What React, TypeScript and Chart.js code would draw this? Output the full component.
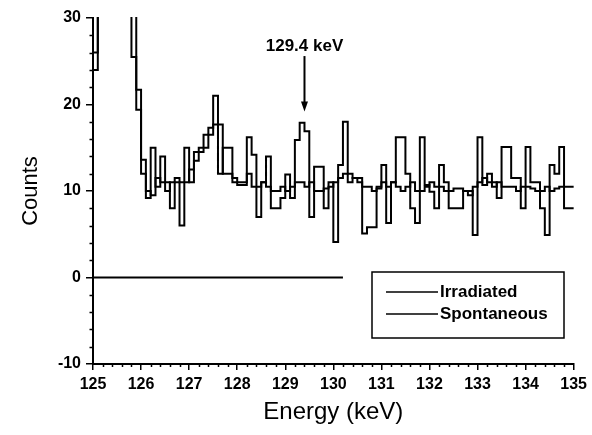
import React, { useEffect, useRef } from "react";
import { Chart, registerables } from "chart.js";

Chart.register(...registerables);

// Histogram bins: first bin starts at 124.9 keV, width 0.1 keV
const binStart = 124.9;
const binWidth = 0.1;

const irradiatedCounts = [
  18, 26, 45, 45, 45, 45, 45, 45, 45, 25.5, 21.7,
  13.6, 9.2, 15, 10.5, 14, 11, 8, 11, 6, 15,
  11, 14.5, 14.5, 16.5, 17.3, 21, 12, 15, 15, 11,
  10.7, 10.7, 16.2, 14.2, 7, 11, 14, 8, 8, 9.2,
  11.9, 9.2, 15.9, 17.9, 16.9, 7, 12.8, 12.8, 8, 11,
  4.1, 13, 18, 12, 11.5, 11.5, 5.1, 5.8, 5.8, 10.3,
  13, 6.3, 11, 16.2, 16.2, 12, 8, 6.3, 16.2, 10.7,
  9.9, 8, 13, 11, 8, 8, 8, 10, 10, 4.9,
  16.2, 10.7, 12, 11, 9.2, 15.1, 15.1, 11.5, 11.5, 8,
  15.1, 11, 11, 8, 4.9, 13, 12, 15.1, 8, 8,
];

const spontaneousCounts = [
  17, 24, 45, 45, 45, 45, 45, 45, 45, 45, 19.4,
  12, 10, 9.5, 11.5, 11, 10, 11, 11.5, 11, 11,
  12.5, 13.5, 15, 15, 16.5, 17.7, 17.7, 12, 12, 11.5,
  11, 11, 12, 10.5, 10.5, 11, 10.5, 10, 10, 10.5,
  10, 10.5, 11, 11, 10.5, 11, 10, 10, 10.3, 10.5,
  11, 11.5, 12, 11, 11.5, 11, 10.5, 10.5, 10, 10.5,
  11, 10.5, 11, 10.5, 10, 10.5, 11, 10, 10, 10.5,
  11, 10.5, 10.5, 10, 10, 10.3, 10.3, 10, 9.5, 10.5,
  11, 11.5, 11, 10.5, 11, 10.5, 10.5, 10.5, 10, 10.5,
  10.5, 10.3, 10, 10, 10.5, 10, 10.3, 10.5, 10.5, 10.5,
];

const zeroLineEnergies = [125, 130.2];
const zeroLineCounts = [0, 0];

const seriesLabels = ["Irradiated", "Spontaneous"];
const peakEnergy = 129.4;
const peakLabel = "129.4 keV";
const arrowFrom = 25.6;
const arrowTo = 19.2;
const labelAt = 26.7;

const xTitle = "Energy (keV)";
const yTitle = "Counts";

const FONT = "'Liberation Sans', Arial, Helvetica, sans-serif";

function toHistogram(values: number[]) {
  const pts = values.map((v, i) => ({
    x: Math.round((binStart + i * binWidth) * 100) / 100,
    y: v,
  }));
  pts.push({
    x: Math.round((binStart + values.length * binWidth) * 100) / 100,
    y: values[values.length - 1],
  });
  return pts;
}

const extrasPlugin = {
  id: "extras",
  afterDraw(chart: any) {
    const { ctx } = chart;
    const xs = chart.scales.x;
    const ys = chart.scales.y;
    const area = chart.chartArea;
    ctx.save();
    ctx.strokeStyle = "#000";
    ctx.fillStyle = "#000";
    // minor ticks x (every 0.2)
    ctx.lineWidth = 1.5;
    ctx.beginPath();
    for (let i = 0; i <= 50; i++) {
      if (i % 5 === 0) continue;
      const v = 125 + i * 0.2;
      const px = Math.round(xs.getPixelForValue(v)) + 0.5;
      ctx.moveTo(px, area.bottom);
      ctx.lineTo(px, area.bottom + 3);
    }
    // minor ticks y (every 2)
    for (let v = -10; v <= 30; v += 2) {
      if (v % 10 === 0) continue;
      const py = Math.round(ys.getPixelForValue(v)) + 0.5;
      ctx.moveTo(area.left, py);
      ctx.lineTo(area.left - 3.5, py);
    }
    ctx.stroke();

    // annotation arrow
    const ax = xs.getPixelForValue(peakEnergy);
    const y1 = ys.getPixelForValue(arrowFrom);
    const y2 = ys.getPixelForValue(arrowTo);
    ctx.lineWidth = 2;
    ctx.beginPath();
    ctx.moveTo(ax, y1);
    ctx.lineTo(ax, y2 - 8);
    ctx.stroke();
    ctx.beginPath();
    ctx.moveTo(ax - 3.5, y2 - 10);
    ctx.lineTo(ax + 3.5, y2 - 10);
    ctx.lineTo(ax, y2);
    ctx.closePath();
    ctx.fill();
    ctx.font = `bold 17px ${FONT}`;
    ctx.textAlign = "center";
    ctx.textBaseline = "middle";
    ctx.fillText(peakLabel, ax, ys.getPixelForValue(labelAt));

    // legend box
    const bx = 372, by = 272, bw = 192, bh = 66;
    ctx.lineWidth = 1.5;
    ctx.fillStyle = "#fff";
    ctx.fillRect(bx, by, bw, bh);
    ctx.strokeRect(bx, by, bw, bh);
    ctx.fillStyle = "#000";
    ctx.font = `bold 17px ${FONT}`;
    ctx.textAlign = "left";
    const rows = [292, 314];
    seriesLabels.forEach((lbl, i) => {
      ctx.beginPath();
      ctx.lineWidth = 1.5;
      ctx.moveTo(386, rows[i]);
      ctx.lineTo(438, rows[i]);
      ctx.stroke();
      ctx.fillText(lbl, 440, rows[i]);
    });
    ctx.restore();
  },
};

export default function App() {
  const ref = useRef<HTMLCanvasElement>(null);
  useEffect(() => {
    if (!ref.current) return;
    const chart = new Chart(ref.current, {
      type: "line",
      data: {
        datasets: [
          {
            label: seriesLabels[0],
            data: toHistogram(irradiatedCounts),
            stepped: "before",
            borderColor: "#000",
            borderWidth: 2,
            pointRadius: 0,
            fill: false,
            clip: 1,
          },
          {
            label: seriesLabels[1],
            data: toHistogram(spontaneousCounts),
            stepped: "before",
            borderColor: "#000",
            borderWidth: 2,
            pointRadius: 0,
            fill: false,
            clip: 1,
          },
          {
            label: "zero",
            data: zeroLineEnergies.map((e, i) => ({ x: e, y: zeroLineCounts[i] })),
            borderColor: "#000",
            borderWidth: 2,
            pointRadius: 0,
            fill: false,
          },
        ],
      },
      options: {
        animation: false,
        responsive: false,
        devicePixelRatio: 1,
        layout: { padding: { top: 18, right: 17, left: 0, bottom: 0 } },
        plugins: {
          legend: { display: false },
          tooltip: { enabled: false },
        },
        scales: {
          x: {
            type: "linear",
            min: 125,
            max: 135,
            afterFit: (s: any) => {
              s.height = 71;
            },
            ticks: {
              stepSize: 1,
              color: "#000",
              font: { family: FONT, size: 16, weight: "bold" },
              padding: 5,
              maxRotation: 0,
            },
            grid: {
              display: true,
              drawOnChartArea: false,
              drawTicks: true,
              tickLength: 6,
              color: "#000",
              lineWidth: 1.5,
            },
            border: { display: true, color: "#000", width: 2 },
            title: {
              display: true,
              text: xTitle,
              color: "#000",
              font: { family: FONT, size: 24 },
              padding: { bottom: 8 },
            },
          },
          y: {
            type: "linear",
            min: -10,
            max: 30,
            afterFit: (s: any) => {
              s.width = 93;
            },
            ticks: {
              stepSize: 10,
              color: "#000",
              font: { family: FONT, size: 16, weight: "bold" },
              padding: 5,
            },
            grid: {
              display: true,
              drawOnChartArea: false,
              drawTicks: true,
              tickLength: 7,
              color: "#000",
              lineWidth: 1.5,
            },
            border: { display: true, color: "#000", width: 2 },
            title: {
              display: true,
              text: yTitle,
              color: "#000",
              font: { family: FONT, size: 22 },
              padding: { top: 18 },
            },
          },
        },
      },
      plugins: [extrasPlugin],
    });
    return () => chart.destroy();
  }, []);
  return (
    <div style={{ position: "absolute", left: 0, top: 0, width: 592, height: 435, background: "#fff" }}>
      <canvas ref={ref} width={592} height={435} />
    </div>
  );
}
